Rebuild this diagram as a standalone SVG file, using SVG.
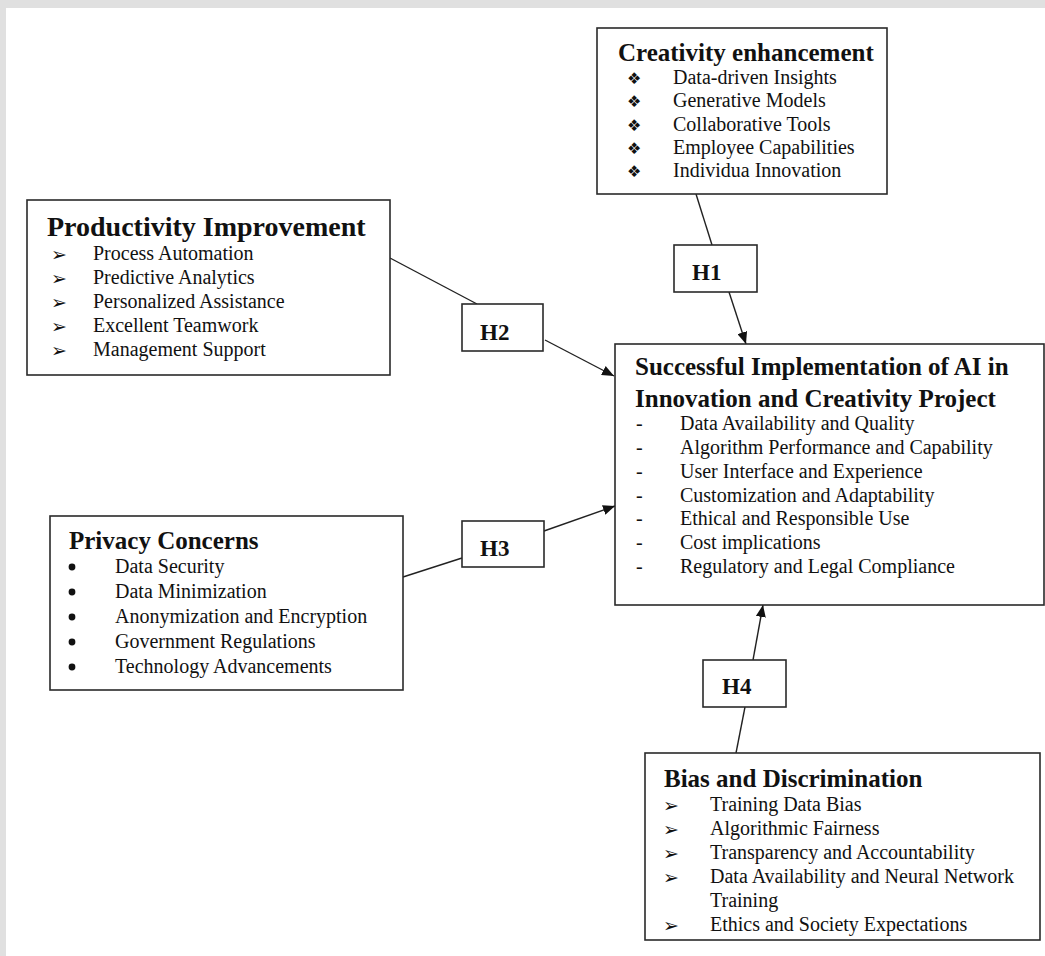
<svg xmlns="http://www.w3.org/2000/svg" width="1045" height="956" viewBox="0 0 1045 956">
<style>
.box{fill:#fff;stroke:#2a2a2a;stroke-width:1.6}
.hbox{fill:#fff;stroke:#2a2a2a;stroke-width:1.6}
.ttl{font-family:"Liberation Serif","Times New Roman",serif;font-weight:bold;font-size:25px;fill:#111}
.itm{font-family:"Liberation Serif","Times New Roman",serif;font-size:20px;fill:#111}
.sym{font-family:"DejaVu Sans",sans-serif;font-size:19px;fill:#111}
.dia{font-family:"DejaVu Sans",sans-serif;font-size:16px;fill:#111}
.dot{fill:#111}
.hl{font-family:"Liberation Serif","Times New Roman",serif;font-weight:bold;font-size:23px;fill:#111}
.con{stroke:#222;stroke-width:1.4;fill:none}
</style>
<defs>
<marker id="arr" viewBox="0 0 12 10" refX="12" refY="5" markerWidth="12" markerHeight="10" markerUnits="userSpaceOnUse" orient="auto">
<path d="M0,0 L12,5 L0,10 Z" fill="#111"/>
</marker>
</defs>
<rect x="0" y="0" width="1045" height="956" fill="#fff"/>
<rect x="0" y="0" width="1045" height="8" fill="#e0e0e0"/>
<rect x="0" y="0" width="6" height="956" fill="#e0e0e0"/>

<g id="connectors">
<line class="con" x1="696" y1="194" x2="712" y2="245"/>
<line class="con" x1="729" y1="292" x2="746" y2="344" marker-end="url(#arr)"/>
<line class="con" x1="390" y1="258" x2="477" y2="304"/>
<line class="con" x1="545" y1="340" x2="614" y2="376" marker-end="url(#arr)"/>
<line class="con" x1="403" y1="577" x2="462" y2="558"/>
<line class="con" x1="544" y1="531" x2="615" y2="506" marker-end="url(#arr)"/>
<line class="con" x1="736" y1="753" x2="745" y2="707"/>
<line class="con" x1="753" y1="660" x2="763" y2="605" marker-end="url(#arr)"/>
</g>

<g id="creativity">
<rect class="box" x="597" y="28" width="290" height="166"/>
<text class="ttl" x="618" y="61">Creativity enhancement</text>
<text class="dia" x="627" y="84">❖</text><text class="itm" x="673" y="84">Data-driven Insights</text>
<text class="dia" x="627" y="107">❖</text><text class="itm" x="673" y="107">Generative Models</text>
<text class="dia" x="627" y="131">❖</text><text class="itm" x="673" y="131">Collaborative Tools</text>
<text class="dia" x="627" y="154">❖</text><text class="itm" x="673" y="154">Employee Capabilities</text>
<text class="dia" x="627" y="177">❖</text><text class="itm" x="673" y="177">Individua Innovation</text>
</g>

<g id="productivity">
<rect class="box" x="27" y="200" width="363" height="175"/>
<text class="ttl" x="47" y="236" style="font-size:28px">Productivity Improvement</text>
<text class="sym" x="51" y="261">➢</text><text class="itm" x="93" y="260">Process Automation</text>
<text class="sym" x="51" y="285">➢</text><text class="itm" x="93" y="284">Predictive Analytics</text>
<text class="sym" x="51" y="309">➢</text><text class="itm" x="93" y="308">Personalized Assistance</text>
<text class="sym" x="51" y="333">➢</text><text class="itm" x="93" y="332">Excellent Teamwork</text>
<text class="sym" x="51" y="357">➢</text><text class="itm" x="93" y="356">Management Support</text>
</g>

<g id="central">
<rect class="box" x="615" y="344" width="429" height="261"/>
<text class="ttl" x="635" y="375">Successful Implementation of AI in</text>
<text class="ttl" x="635" y="407">Innovation and Creativity Project</text>
<text class="itm" x="636" y="430">-</text><text class="itm" x="680" y="430">Data Availability and Quality</text>
<text class="itm" x="636" y="454">-</text><text class="itm" x="680" y="454">Algorithm Performance and Capability</text>
<text class="itm" x="636" y="478">-</text><text class="itm" x="680" y="478">User Interface and Experience</text>
<text class="itm" x="636" y="502">-</text><text class="itm" x="680" y="502">Customization and Adaptability</text>
<text class="itm" x="636" y="525">-</text><text class="itm" x="680" y="525">Ethical and Responsible Use</text>
<text class="itm" x="636" y="549">-</text><text class="itm" x="680" y="549">Cost implications</text>
<text class="itm" x="636" y="573">-</text><text class="itm" x="680" y="573">Regulatory and Legal Compliance</text>
</g>

<g id="privacy">
<rect class="box" x="50" y="516" width="353" height="174"/>
<text class="ttl" x="69" y="549">Privacy Concerns</text>
<circle class="dot" cx="72" cy="567" r="3.4"/><text class="itm" x="115" y="573">Data Security</text>
<circle class="dot" cx="72" cy="592" r="3.4"/><text class="itm" x="115" y="598">Data Minimization</text>
<circle class="dot" cx="72" cy="617" r="3.4"/><text class="itm" x="115" y="623">Anonymization and Encryption</text>
<circle class="dot" cx="72" cy="642" r="3.4"/><text class="itm" x="115" y="648">Government Regulations</text>
<circle class="dot" cx="72" cy="667" r="3.4"/><text class="itm" x="115" y="673">Technology Advancements</text>
</g>

<g id="bias">
<rect class="box" x="645" y="753" width="395" height="187"/>
<text class="ttl" x="664" y="787">Bias and Discrimination</text>
<text class="sym" x="663" y="812">➢</text><text class="itm" x="710" y="811">Training Data Bias</text>
<text class="sym" x="663" y="836">➢</text><text class="itm" x="710" y="835">Algorithmic Fairness</text>
<text class="sym" x="663" y="860">➢</text><text class="itm" x="710" y="859">Transparency and Accountability</text>
<text class="sym" x="663" y="884">➢</text><text class="itm" x="710" y="883">Data Availability and Neural Network</text>
<text class="itm" x="710" y="907">Training</text>
<text class="sym" x="663" y="932">➢</text><text class="itm" x="710" y="931">Ethics and Society Expectations</text>
</g>

<g id="h1"><rect class="hbox" x="674" y="245" width="83" height="47"/><text class="hl" x="692" y="280">H1</text></g>
<g id="h2"><rect class="hbox" x="462" y="304" width="81" height="47"/><text class="hl" x="480" y="340">H2</text></g>
<g id="h3"><rect class="hbox" x="462" y="521" width="82" height="46"/><text class="hl" x="480" y="556">H3</text></g>
<g id="h4"><rect class="hbox" x="703" y="660" width="83" height="47"/><text class="hl" x="722" y="694">H4</text></g>
</svg>
